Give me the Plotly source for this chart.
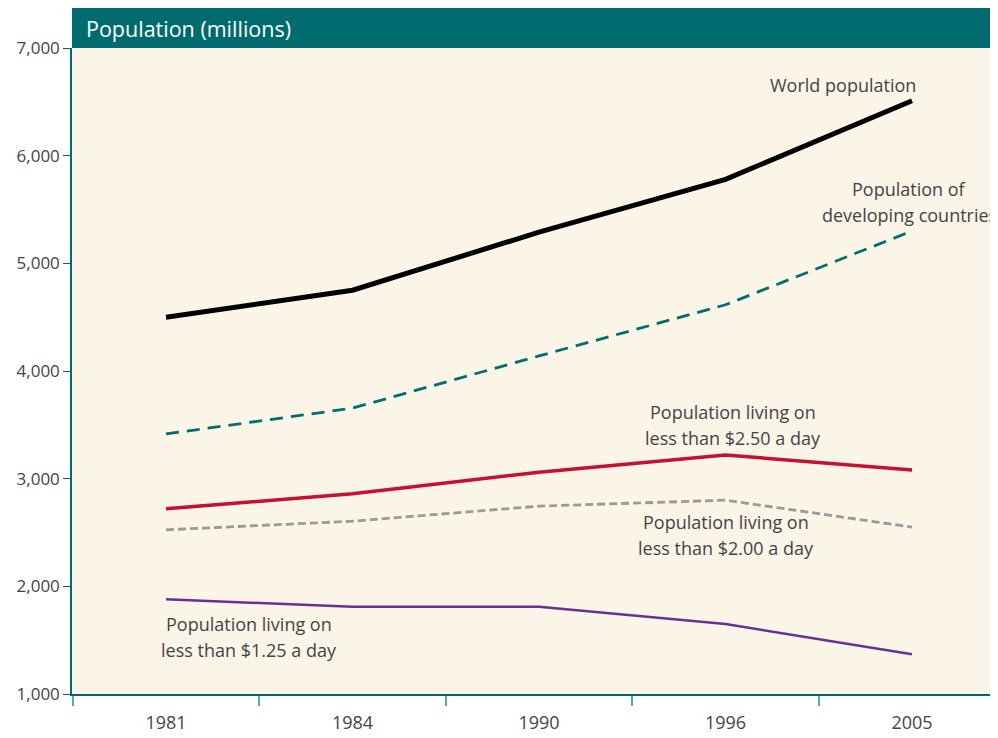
import plotly.graph_objects as go

years = ["1981", "1984", "1990", "1996", "2005"]
world = [4500, 4750, 5290, 5780, 6510]
developing = [3415, 3655, 4140, 4615, 5300]
under_250 = [2720, 2860, 3060, 3220, 3080]
under_200 = [2525, 2605, 2745, 2800, 2550]
under_125 = [1880, 1810, 1810, 1650, 1370]
y_ticks = [1000, 2000, 3000, 4000, 5000, 6000, 7000]
y_tick_labels = ["1,000", "2,000", "3,000", "4,000", "5,000", "6,000", "7,000"]

TEAL = "#006B6E"
TXT = "#444444"
FONT = "Open Sans"

fig = go.Figure()
fig.add_trace(go.Scatter(x=years, y=under_125, mode="lines",
                         line=dict(color="#6B2E93", width=2.5)))
fig.add_trace(go.Scatter(x=years, y=under_200, mode="lines",
                         line=dict(color="#9A9A9A", width=2.8, dash="8px,4px")))
fig.add_trace(go.Scatter(x=years, y=under_250, mode="lines",
                         line=dict(color="#C8102E", width=3.5)))
fig.add_trace(go.Scatter(x=years, y=developing, mode="lines",
                         line=dict(color="#006E70", width=2.8, dash="13px,8px")))
fig.add_trace(go.Scatter(x=years, y=world, mode="lines",
                         line=dict(color="#000000", width=5)))

ann_font = dict(family=FONT, size=18, color=TXT)
labels = [
    (3.630, 6656, "World population"),
    (3.984, 5690, "Population of"),
    (3.984, 5449, "developing countries"),
    (3.040, 3619, "Population living on"),
    (3.040, 3378, "less than $2.50 a day"),
    (3.003, 2597, "Population living on"),
    (3.003, 2356, "less than $2.00 a day"),
    (0.445, 1650, "Population living on"),
    (0.445, 1409, "less than $1.25 a day"),
]
for x, y, t in labels:
    fig.add_annotation(x=x, y=y, text=t, xanchor="center", yanchor="middle",
                       showarrow=False, font=ann_font)

# header bar
fig.add_shape(type="rect", xref="paper", yref="paper", x0=0, x1=1,
              y0=1, y1=1 + 40 / 646, fillcolor=TEAL, line_width=0, layer="above")
fig.add_annotation(xref="paper", yref="paper", x=0.013, y=1 + 20 / 646,
                   text="Population (millions)", showarrow=False, xanchor="left",
                   yanchor="middle", font=dict(family=FONT, size=21.5, color="white"))

fig.update_layout(
    width=990, height=730,
    margin=dict(l=64, r=0, t=40, b=44),
    paper_bgcolor="white",
    plot_bgcolor="#FBF5E8",
    showlegend=False,
    font=dict(family=FONT, color=TXT),
    xaxis=dict(type="category", range=[-0.504, 4.461], showgrid=False,
               showline=True, linecolor=TEAL, linewidth=1.5,
               ticks="outside", tickson="boundaries", ticklen=10,
               tickcolor="#5FA8A8", tickwidth=1.5, ticklabelstandoff=12,
               tickfont=dict(family=FONT, size=18, color=TXT), zeroline=False),
    yaxis=dict(range=[1000, 7000], tickvals=y_ticks, ticktext=y_tick_labels,
               showgrid=False, showline=True, linecolor=TEAL, linewidth=1.5,
               ticks="outside", ticklen=7, tickcolor=TEAL, tickwidth=1,
               tickfont=dict(family=FONT, size=17, color=TXT), zeroline=False),
)

fig.write_html("out.html")
